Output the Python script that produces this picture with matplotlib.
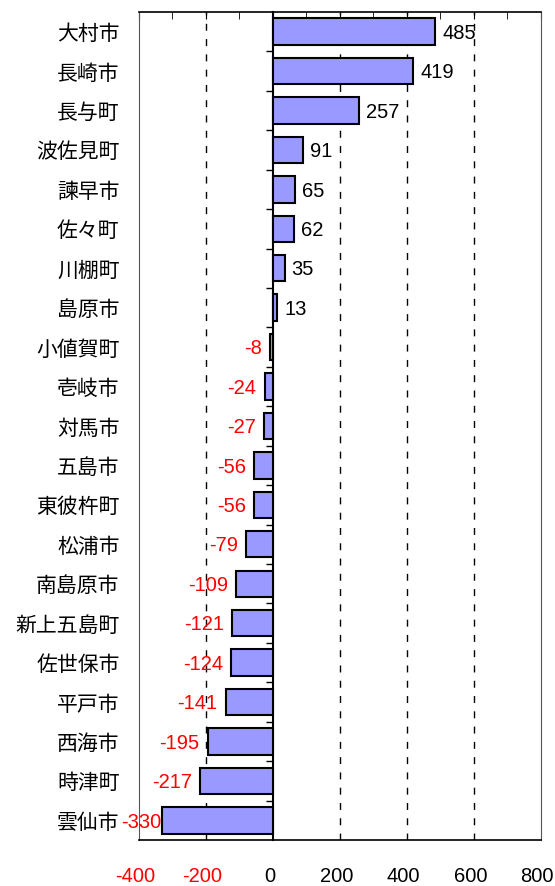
import numpy as np
import matplotlib.pyplot as plt

plt.rcParams['font.family'] = ['Liberation Sans', 'Noto Sans CJK JP', 'DejaVu Sans']

towns = ["大村市", "長崎市", "長与町", "波佐見町", "諫早市", "佐々町", "川棚町",
         "島原市", "小値賀町", "壱岐市", "対馬市", "五島市", "東彼杵町", "松浦市",
         "南島原市", "新上五島町", "佐世保市", "平戸市", "西海市", "時津町", "雲仙市"]
change = [485, 419, 257, 91, 65, 62, 35, 13, -8, -24, -27, -56, -56, -79,
          -109, -121, -124, -141, -195, -217, -330]
xticks = [-400, -200, 0, 200, 400, 600, 800]

fs_num = 14.5
cap = 0.716 * fs_num  # cap height in points, used to centre digits on the bars

fig = plt.figure(figsize=(5.55, 8.86), dpi=100)
ax = fig.add_axes([0.2505, 0.0519, 0.7237, 0.9346])

y = np.arange(len(towns))
ax.barh(y, change, height=0.67, color="#9999FF", edgecolor="black", linewidth=1.5, zorder=3)

ax.set_xlim(-400, 800)
ax.set_ylim(len(towns) - 0.5, -0.5)

# dashed grid at the major values (not at zero)
for v in xticks[1:-1]:
    if v != 0:
        ax.axvline(v, color="black", linestyle=(0, (5, 6)), linewidth=1, zorder=1)

# value labels
for i, v in enumerate(change):
    if v >= 0:
        ax.annotate(str(v), (v, i), xytext=(5, -cap / 2), textcoords="offset points",
                    ha="left", va="baseline", fontsize=fs_num, color="black")
    else:
        off = -1 if v == min(change) else -6
        ax.annotate(str(v), (v, i), xytext=(off, -cap / 2), textcoords="offset points",
                    ha="right", va="baseline", fontsize=fs_num, color="#FF0000")

# category labels on the left, no tick marks there
ax.set_yticks(y)
ax.set_yticklabels(towns, fontsize=15, family=["Noto Sans CJK JP", "DejaVu Sans"])
ax.tick_params(axis="y", length=0, pad=14)

# x tick labels drawn well below the axis, negatives in red
ax.set_xticks(xticks)
ax.set_xticklabels([])
for v in xticks:
    ax.annotate(str(v), (v, 0), xycoords=("data", "axes fraction"),
                xytext=(-2.5, -30), textcoords="offset points",
                ha="center", va="baseline", fontsize=fs_num,
                color="#FF0000" if v < 0 else "black", annotation_clip=False)
ax.tick_params(axis="x", bottom=False, top=True, direction="in", length=5)
ax.set_xticks(np.arange(-300, 800, 200), minor=True)
ax.tick_params(axis="x", which="minor", bottom=False, top=True, direction="in", length=5)

# zero axis carrying the category boundary ticks
zero = ax.secondary_yaxis(0, transform=ax.transData)
zero.set_yticks(np.arange(len(towns) - 1) + 0.5)
zero.set_yticklabels([])
zero.tick_params(length=5, width=1, direction="out")
zero.spines["left"].set_linewidth(1.5)

for s in ["left", "right"]:
    ax.spines[s].set_color("#555555")
for s in ["top", "bottom"]:
    ax.spines[s].set_color("black")
    ax.spines[s].set_linewidth(1.2)

fig.savefig("out.png", dpi=100)
